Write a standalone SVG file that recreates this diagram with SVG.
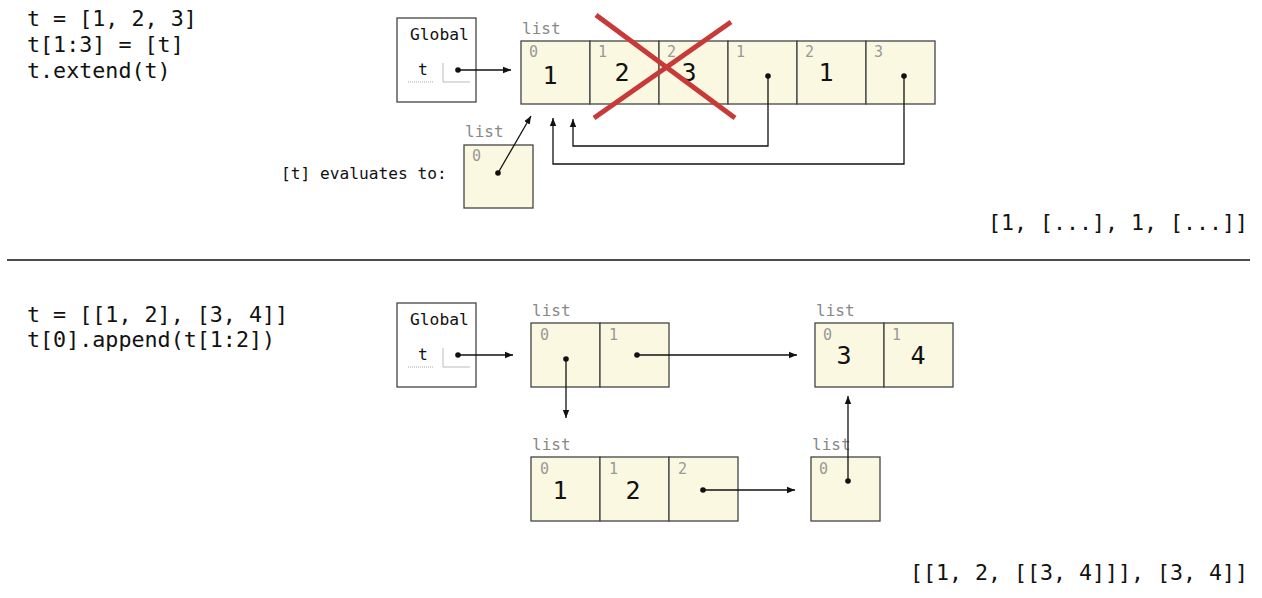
<svg xmlns="http://www.w3.org/2000/svg" width="1262" height="598" viewBox="0 0 1262 598">
<defs>
<marker id="ah" viewBox="0 0 10 10" refX="10" refY="5" markerWidth="8" markerHeight="8" markerUnits="userSpaceOnUse" orient="auto">
<path d="M0,1 L10,5 L0,9 z" fill="#111"/>
</marker>
</defs>
<style>
text{font-family:"DejaVu Sans Mono","Liberation Mono",monospace;}
.code{font-size:21.7px;fill:#111;}
.frame{fill:#fff;stroke:#444;stroke-width:1.3;}
.fname{font-size:16.3px;fill:#111;}
.cell{fill:#fbf8e2;stroke:#444;stroke-width:1.3;}
.lbl{font-size:16px;fill:#888;}
.idx{font-size:15px;fill:#999;}
.val{font-size:25px;fill:#111;text-anchor:middle;}
.ptr{fill:none;stroke:#111;stroke-width:1.3;marker-end:url(#ah);}
.dot{fill:#111;}
.res{font-size:21.6px;fill:#111;text-anchor:end;}
.x{stroke:#c83a38;stroke-width:5;}
</style>
<rect width="1262" height="598" fill="#fff"/>

<g id="code-top">
<text class="code" x="27" y="26">t = [1, 2, 3]</text>
<text class="code" x="27" y="52">t[1:3] = [t]</text>
<text class="code" x="27" y="78">t.extend(t)</text>
</g>

<g id="global-top">
<rect class="frame" x="397" y="18" width="79" height="84"/>
<text class="fname" x="410" y="40">Global</text>
<text class="fname" x="418" y="75">t</text>
<line x1="408" y1="82" x2="434" y2="82" stroke="#aaa" stroke-dasharray="1,1"/>
<polyline points="443,63 443,82 470,82" fill="none" stroke="#bbb"/>
</g>

<g id="list-top">
<text class="lbl" x="522" y="34">list</text>
<rect class="cell" x="521" y="41" width="69" height="63"/>
<rect class="cell" x="590" y="41" width="69" height="63"/>
<rect class="cell" x="659" y="41" width="69" height="63"/>
<rect class="cell" x="728" y="41" width="69" height="63"/>
<rect class="cell" x="797" y="41" width="69" height="63"/>
<rect class="cell" x="866" y="41" width="69" height="63"/>
<text class="idx" x="529" y="57">0</text>
<text class="idx" x="598" y="57">1</text>
<text class="idx" x="667" y="57">2</text>
<text class="idx" x="736" y="57">1</text>
<text class="idx" x="805" y="57">2</text>
<text class="idx" x="874" y="57">3</text>
<text class="val" x="550" y="84">1</text>
<text class="val" x="622" y="81">2</text>
<text class="val" x="689" y="81">3</text>
<text class="val" x="826" y="81">1</text>
</g>

<g id="cross">
<line class="x" x1="596" y1="15" x2="735" y2="118"/>
<line class="x" x1="731" y1="22" x2="594" y2="118"/>
</g>

<g id="list-t">
<text class="lbl" x="465" y="137">list</text>
<rect class="cell" x="464" y="145" width="69" height="63"/>
<text class="idx" x="472" y="161">0</text>
</g>

<text id="eval-label" x="281" y="179" font-size="16.2" fill="#111">[t] evaluates to:</text>

<text id="result-top" class="res" x="1248" y="230">[1, [...], 1, [...]]</text>

<line id="separator" x1="7" y1="260" x2="1250" y2="260" stroke="#111" stroke-width="1.3"/>

<g id="code-bottom">
<text class="code" x="27" y="322">t = [[1, 2], [3, 4]]</text>
<text class="code" x="27" y="347">t[0].append(t[1:2])</text>
</g>

<g id="global-bottom">
<rect class="frame" x="397" y="303" width="79" height="84"/>
<text class="fname" x="410" y="325">Global</text>
<text class="fname" x="418" y="360">t</text>
<line x1="408" y1="367" x2="434" y2="367" stroke="#aaa" stroke-dasharray="1,1"/>
<polyline points="443,348 443,367 470,367" fill="none" stroke="#bbb"/>
</g>

<g id="list-a">
<text class="lbl" x="532" y="316">list</text>
<rect class="cell" x="531" y="323" width="69" height="64"/>
<rect class="cell" x="600" y="323" width="69" height="64"/>
<text class="idx" x="540" y="340">0</text>
<text class="idx" x="609" y="340">1</text>
</g>

<g id="list-b">
<text class="lbl" x="816" y="316">list</text>
<rect class="cell" x="815" y="323" width="69" height="64"/>
<rect class="cell" x="884" y="323" width="69" height="64"/>
<text class="idx" x="823" y="340">0</text>
<text class="idx" x="892" y="340">1</text>
<text class="val" x="844" y="364">3</text>
<text class="val" x="918" y="364">4</text>
</g>

<g id="list-c">
<text class="lbl" x="532" y="450">list</text>
<rect class="cell" x="531" y="457" width="69" height="64"/>
<rect class="cell" x="600" y="457" width="69" height="64"/>
<rect class="cell" x="669" y="457" width="69" height="64"/>
<text class="idx" x="540" y="474">0</text>
<text class="idx" x="609" y="474">1</text>
<text class="idx" x="678" y="474">2</text>
<text class="val" x="560" y="499">1</text>
<text class="val" x="633" y="499">2</text>
</g>

<g id="list-d">
<text class="lbl" x="812" y="450">list</text>
<rect class="cell" x="811" y="457" width="69" height="64"/>
<text class="idx" x="819" y="474">0</text>
</g>

<text id="result-bottom" class="res" x="1248" y="580">[[1, 2, [[3, 4]]], [3, 4]]</text>

<g id="connectors">
<circle class="dot" cx="458" cy="70" r="2.8"/>
<line class="ptr" x1="458" y1="70" x2="511" y2="70"/>
<circle class="dot" cx="768" cy="76" r="2.8"/>
<polyline class="ptr" points="768,76 768,146 573,146 573,119"/>
<circle class="dot" cx="904" cy="76" r="2.8"/>
<polyline class="ptr" points="904,76 904,164 553,164 553,118"/>
<circle class="dot" cx="498" cy="173" r="2.8"/>
<line class="ptr" x1="498" y1="173" x2="531" y2="116"/>

<circle class="dot" cx="458" cy="355" r="2.8"/>
<line class="ptr" x1="458" y1="355" x2="513" y2="355"/>
<circle class="dot" cx="566" cy="359" r="2.8"/>
<line class="ptr" x1="566" y1="359" x2="566" y2="418"/>
<circle class="dot" cx="637" cy="355" r="2.8"/>
<line class="ptr" x1="637" y1="355" x2="797" y2="355"/>
<circle class="dot" cx="703" cy="490" r="2.8"/>
<line class="ptr" x1="703" y1="490" x2="795" y2="490"/>
<circle class="dot" cx="848" cy="481" r="2.8"/>
<line class="ptr" x1="848" y1="481" x2="848" y2="396"/>
</g>
</svg>
